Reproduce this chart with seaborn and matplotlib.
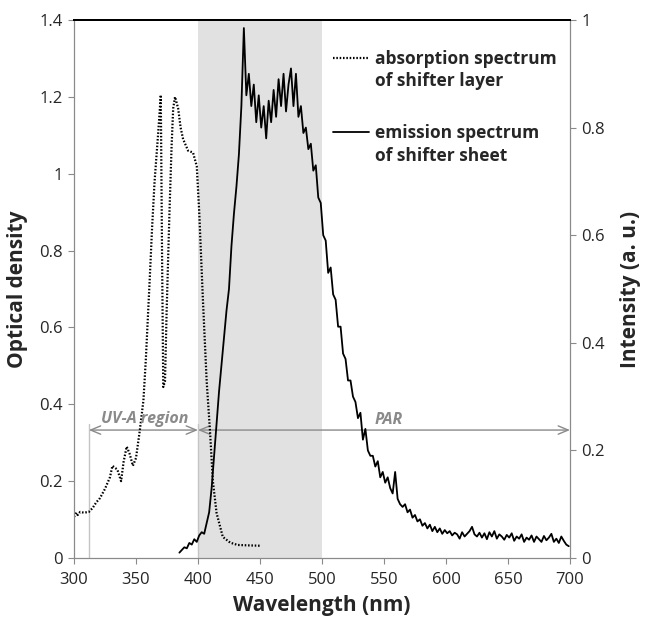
import numpy as np
import pandas as pd
import matplotlib
matplotlib.use("Agg")
import matplotlib.pyplot as plt
import seaborn as sns
from matplotlib.lines import Line2D

# absorption spectrum of shifter layer (optical density, left axis)
abs_wl = [300, 302, 303, 305, 308, 312, 315, 318, 321, 325, 329, 331, 333, 335, 338,
          340, 342.5, 345, 347.5, 350, 353, 356, 358, 361, 363, 365, 368, 370, 371, 372,
          373.4, 374.7, 377, 378.7, 380, 381.5, 384, 386, 388, 392, 396, 399, 401, 404,
          407, 409.7, 412, 415, 420, 426, 432, 440, 450]
abs_od = [0.107, 0.118, 0.112, 0.12, 0.118, 0.12, 0.13, 0.145, 0.156, 0.18, 0.21, 0.24, 0.235, 0.23, 0.2,
          0.25, 0.29, 0.27, 0.24, 0.26, 0.33, 0.41, 0.52, 0.72, 0.86, 0.98, 1.11, 1.205, 0.8, 0.445,
          0.46, 0.64, 0.9, 1.07, 1.17, 1.2, 1.17, 1.12, 1.09, 1.06, 1.055, 1.02, 0.9, 0.67,
          0.46, 0.33, 0.2, 0.117, 0.055, 0.04, 0.034, 0.033, 0.032]

# emission spectrum of shifter sheet (intensity, right axis)
em_wl = list(range(385, 700, 2))
em_int = [0.010, 0.015, 0.020, 0.018, 0.028, 0.025, 0.035, 0.030, 0.042, 0.048, 0.045, 0.065, 0.085,
          0.13, 0.19, 0.25, 0.31, 0.36, 0.41, 0.46, 0.50, 0.58, 0.64, 0.69, 0.75, 0.84, 0.985, 0.86,
          0.90, 0.84, 0.88, 0.81, 0.86, 0.80, 0.84, 0.78, 0.85, 0.81, 0.87, 0.82, 0.89, 0.84, 0.90, 0.83, 0.88, 0.91, 0.84, 0.90,
          0.82, 0.84, 0.79, 0.80, 0.76, 0.77, 0.72, 0.73, 0.67, 0.66, 0.60, 0.59, 0.53, 0.54, 0.49, 0.48, 0.43, 0.43, 0.38, 0.37,
          0.33, 0.33, 0.30, 0.29, 0.26, 0.27, 0.22, 0.24, 0.20, 0.19, 0.19, 0.17, 0.18, 0.15, 0.16, 0.14, 0.15, 0.13, 0.12, 0.16,
          0.11, 0.10, 0.095, 0.10, 0.085, 0.09, 0.075, 0.08, 0.068, 0.072, 0.06, 0.065, 0.055, 0.062, 0.05, 0.058, 0.048, 0.055, 0.045, 0.052,
          0.046, 0.05, 0.042, 0.047, 0.044, 0.036, 0.048, 0.04, 0.045, 0.05, 0.058, 0.044, 0.04, 0.047, 0.038, 0.046, 0.035, 0.048, 0.04, 0.05,
          0.036, 0.044, 0.04, 0.034, 0.043, 0.038, 0.046, 0.032, 0.04, 0.036, 0.044, 0.03, 0.038, 0.034, 0.042, 0.03, 0.04, 0.035, 0.03, 0.041,
          0.033, 0.038, 0.045, 0.03, 0.036, 0.028, 0.04, 0.032, 0.025, 0.022]

xticks = [300, 350, 400, 450, 500, 550, 600, 650, 700]
left_ticks = [0, 0.2, 0.4, 0.6, 0.8, 1.0, 1.2, 1.4]
left_labels = ["0", "0.2", "0.4", "0.6", "0.8", "1", "1.2", "1.4"]
right_ticks = [0, 0.2, 0.4, 0.6, 0.8, 1.0]
right_labels = ["0", "0.2", "0.4", "0.6", "0.8", "1"]

absorb = pd.DataFrame({"wl": abs_wl, "od": abs_od})
emit = pd.DataFrame({"wl": em_wl, "inten": em_int})

sns.set_theme(style="white")
plt.rcParams["font.family"] = ["Open Sans", "DejaVu Sans"]

fig = plt.figure(figsize=(6.45, 6.19), dpi=100)
ax = fig.add_axes([0.1147, 0.0985, 0.769, 0.8692])
ax2 = ax.twinx()

grey = "#8a8a8a"

# PAR shaded band
ax.axvspan(400, 500, color="#e1e1e1", lw=0, zorder=0)

sns.lineplot(data=absorb, x="wl", y="od", ax=ax, color="black", lw=1.6,
             sort=False, estimator=None, zorder=3)
ax.lines[-1].set_linestyle((0, (0.7, 0.8)))
sns.lineplot(data=emit, x="wl", y="inten", ax=ax2, color="black", lw=1.3,
             sort=False, estimator=None, zorder=3)

# region markers
ax.axvline(312, ymin=0, ymax=0.35 / 1.4, color="#c4c4c4", lw=1, zorder=1)
ax.axvline(400, ymin=0, ymax=0.35 / 1.4, color="#c4c4c4", lw=1, zorder=1)
arrow = dict(arrowstyle="<->,head_length=0.6,head_width=0.25", color=grey, lw=1.0,
             shrinkA=0, shrinkB=0)
ax.annotate("", xy=(312, 0.333), xytext=(400, 0.333), arrowprops=arrow, zorder=2)
ax.annotate("", xy=(400, 0.333), xytext=(700, 0.333), arrowprops=arrow, zorder=2)
ax.text(357, 0.362, "UV-A region", color=grey, fontsize=11.5, fontweight="bold",
        style="italic", ha="center", va="center")
ax.text(554, 0.359, "PAR", color=grey, fontsize=11.5, fontweight="bold",
        style="italic", ha="center", va="center")

ax.set_xlim(300, 700)
ax.set_ylim(0, 1.4)
ax2.set_ylim(0, 1)
ax.set_xticks(xticks)
ax.set_xticklabels([str(t) for t in xticks])
ax.set_yticks(left_ticks)
ax.set_yticklabels(left_labels)
ax2.set_yticks(right_ticks)
ax2.set_yticklabels(right_labels)

for a in (ax, ax2):
    a.tick_params(axis="both", labelsize=12, length=4, width=0.8, color=grey,
                  pad=4, direction="out")
    for s in a.spines.values():
        s.set_color(grey)
        s.set_linewidth(0.8)
    a.spines["top"].set_color("black")
    a.spines["top"].set_linewidth(1.4)
ax.tick_params(left=True, bottom=True)
ax.tick_params(axis="x", pad=6)
ax2.tick_params(right=True)

ax.set_xlabel("Wavelength (nm)", fontsize=15, fontweight="bold", labelpad=5)
ax.set_ylabel("Optical density", fontsize=15, fontweight="bold", labelpad=8)
ax2.set_ylabel("Intensity (a. u.)", fontsize=15, fontweight="bold", labelpad=11)

# legend in two blocks
blank = Line2D([], [], color="none")
h1 = Line2D([], [], color="black", lw=1.6, ls=(0, (0.7, 0.8)))
h2 = Line2D([], [], color="black", lw=1.3)
lkw = dict(frameon=False, loc="upper left", handlelength=2.1, handletextpad=0.35,
           borderpad=0, borderaxespad=0, labelspacing=0.25,
           prop={"family": ["Open Sans", "DejaVu Sans"], "weight": "bold", "size": 12.5})
leg1 = ax2.legend([h1, blank], ["absorption spectrum", "of shifter layer"],
                  bbox_to_anchor=(0.522, 0.945), **lkw)
ax2.add_artist(leg1)
ax2.legend([h2, blank], ["emission spectrum", "of shifter sheet"],
           bbox_to_anchor=(0.522, 0.806), **lkw)

fig.savefig("out.png", dpi=100, facecolor="white")
